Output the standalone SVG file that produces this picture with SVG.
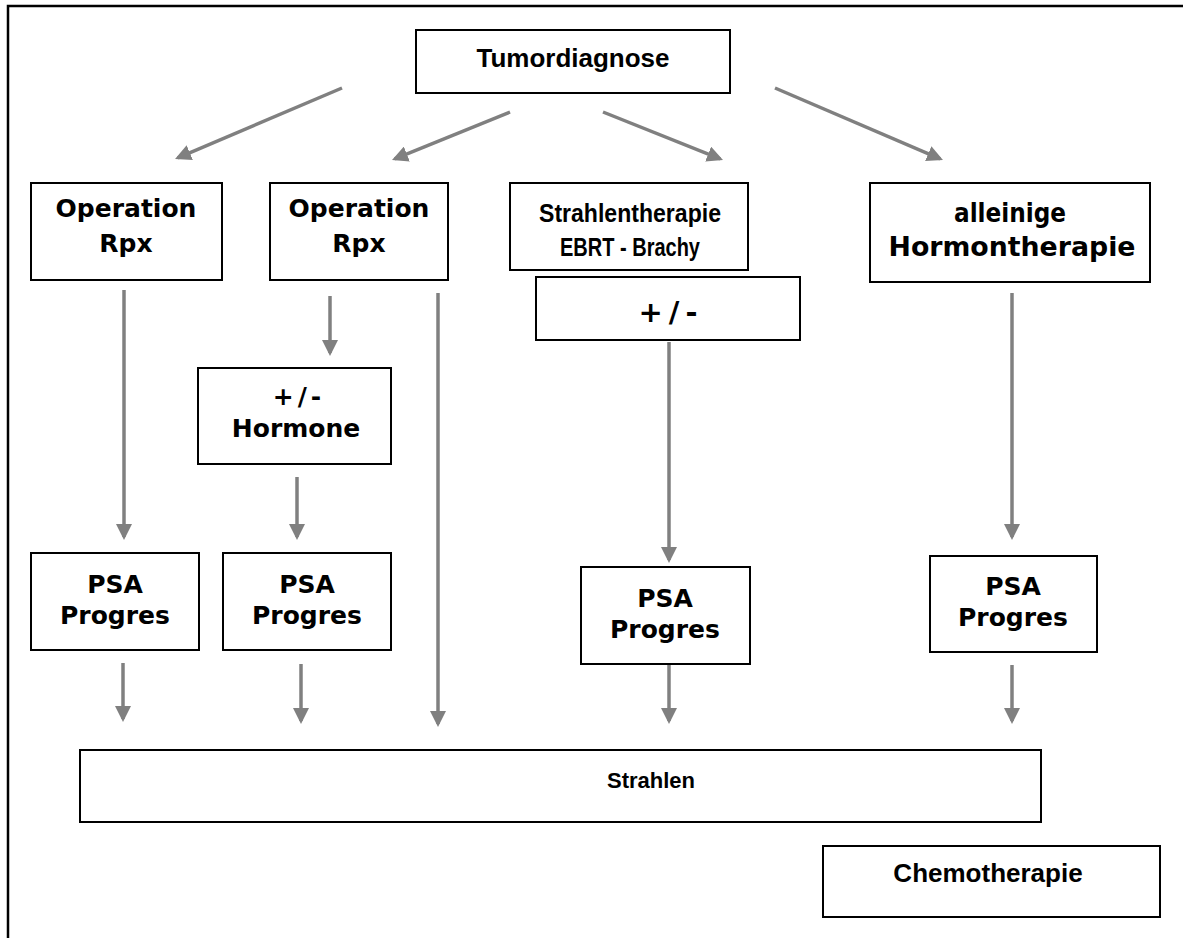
<svg xmlns="http://www.w3.org/2000/svg" width="1183" height="938" viewBox="0 0 1183 938">
<style>
.box{fill:#fff;stroke:#000;stroke-width:2}
.a{font-family:"Liberation Sans",Arial,sans-serif;font-weight:bold;font-size:26px;text-anchor:middle;fill:#000}
.v{font-family:"DejaVu Sans",Verdana,sans-serif;font-weight:bold;font-size:25px;text-anchor:middle;fill:#000}
.t{font-family:"Liberation Sans",Arial,sans-serif;font-weight:bold;font-size:26px;text-anchor:middle;fill:#000}
.c{fill:none;stroke:#808080;stroke-width:3.5;marker-end:url(#ah)}
</style>
<defs>
<marker id="ah" markerUnits="userSpaceOnUse" markerWidth="16" markerHeight="16" refX="13" refY="8" orient="auto">
<path d="M0,0 L16,8 L0,16 z" fill="#808080"/>
</marker>
</defs>
<rect width="1183" height="938" fill="#fff"/>
<g id="frame"><path d="M8,938 V6 H1183" fill="none" stroke="#000" stroke-width="2.5"/></g>
<g id="connectors">
<line class="c" x1="342" y1="88" x2="177.8" y2="157.8"/>
<line class="c" x1="510" y1="112" x2="394.8" y2="158.9"/>
<line class="c" x1="603" y1="112" x2="720.2" y2="158.9"/>
<line class="c" x1="775" y1="88" x2="940.2" y2="158.8"/>
<line class="c" x1="124" y1="290" x2="124" y2="537"/>
<line class="c" x1="330" y1="296" x2="330" y2="353"/>
<line class="c" x1="297" y1="477" x2="297" y2="537"/>
<line class="c" x1="438" y1="293" x2="438" y2="724"/>
<line class="c" x1="669" y1="342" x2="669" y2="560"/>
<line class="c" x1="1012" y1="293" x2="1012" y2="537"/>
<line class="c" x1="123" y1="663" x2="123" y2="719"/>
<line class="c" x1="301" y1="664" x2="301" y2="721"/>
<line class="c" x1="669" y1="665" x2="669" y2="721"/>
<line class="c" x1="1012" y1="665" x2="1012" y2="721"/>
</g>
<g id="tumordiagnose"><rect class="box" x="416" y="30" width="314" height="63"/><text class="a" x="573" y="67">Tumordiagnose</text></g>
<g id="operation1"><rect class="box" x="31" y="183" width="191" height="97"/><text class="v" x="126" y="217">Operation</text><text class="v" x="126" y="252">Rpx</text></g>
<g id="operation2"><rect class="box" x="270" y="183" width="178" height="97"/><text class="v" x="359" y="217">Operation</text><text class="v" x="359" y="252">Rpx</text></g>
<g id="strahlentherapie"><rect class="box" x="510" y="183" width="238" height="87"/><text class="t" x="630" y="222" textLength="182" lengthAdjust="spacingAndGlyphs">Strahlentherapie</text><text class="t" x="630" y="256" textLength="140" lengthAdjust="spacingAndGlyphs">EBRT - Brachy</text></g>
<g id="plusminus"><rect class="box" x="536" y="277" width="264" height="63"/><text class="v" x="671" y="322" style="font-size:29px;letter-spacing:6px">+/-</text></g>
<g id="hormontherapie"><rect class="box" x="870" y="183" width="280" height="99"/><text class="v" x="1010" y="222" style="font-size:26px" textLength="112" lengthAdjust="spacingAndGlyphs">alleinige</text><text class="v" x="1012" y="256" style="font-size:26px" textLength="247" lengthAdjust="spacingAndGlyphs">Hormontherapie</text></g>
<g id="hormone"><rect class="box" x="198" y="368" width="193" height="96"/><text class="v" x="299" y="405" style="letter-spacing:4px">+/-</text><text class="v" x="296" y="437">Hormone</text></g>
<g id="psa1"><rect class="box" x="31" y="553" width="168" height="97"/><text class="v" x="115" y="593">PSA</text><text class="v" x="115" y="624">Progres</text></g>
<g id="psa2"><rect class="box" x="223" y="553" width="168" height="97"/><text class="v" x="307" y="593">PSA</text><text class="v" x="307" y="624">Progres</text></g>
<g id="psa3"><rect class="box" x="581" y="567" width="169" height="97"/><text class="v" x="665" y="607">PSA</text><text class="v" x="665" y="638">Progres</text></g>
<g id="psa4"><rect class="box" x="930" y="556" width="167" height="96"/><text class="v" x="1013" y="595">PSA</text><text class="v" x="1013" y="626">Progres</text></g>
<g id="strahlen"><rect class="box" x="80" y="750" width="961" height="72"/><text class="a" x="651" y="788" style="font-size:22px">Strahlen</text></g>
<g id="chemotherapie"><rect class="box" x="823" y="846" width="337" height="71"/><text class="a" x="988" y="882">Chemotherapie</text></g>
</svg>
